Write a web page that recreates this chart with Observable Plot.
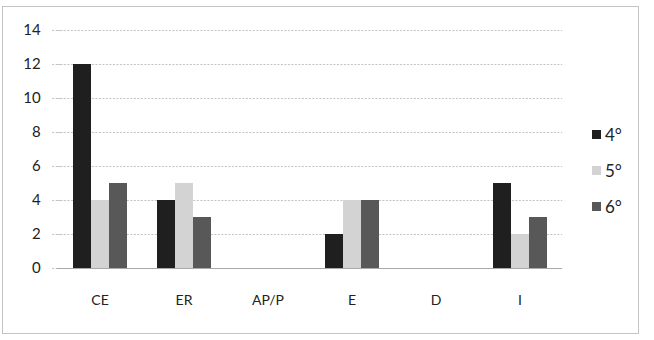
<!DOCTYPE html>
<html><head><meta charset="utf-8">
<script src="https://cdn.jsdelivr.net/npm/d3@7"></script>
<script src="https://cdn.jsdelivr.net/npm/@observablehq/plot@0.6"></script>
<style>
body{margin:0;background:#fff;}
#wrap{position:relative;width:654px;height:340px;font-family:Lato,"Open Sans",sans-serif;}
#wrap svg{position:absolute;left:0;top:0;}
#border{position:absolute;left:2px;top:6px;width:635px;height:326px;border:1px solid #c4c4c4;}
#legend{position:absolute;left:592px;top:116px;}
.item{display:flex;align-items:center;height:36px;font-size:17px;color:#222;}
.sw{width:9px;height:9px;margin-right:4px;}
</style></head><body>
<div id="wrap"><div id="border"></div><div id="legend"></div></div>
<script>
const categories = ["CE","ER","AP/P","E","D","I"];
const series = ["4°","5°","6°"];
const values4 = [12,4,0,2,0,5];
const values5 = [4,5,0,4,0,2];
const values6 = [5,3,0,4,0,3];
const yTicks = [0,2,4,6,8,10,12,14];
const colors = ["#1f1f1f","#d3d3d3","#585858"];

const seriesValues = [values4, values5, values6];
const data = [];
categories.forEach((c, i) => series.forEach((s, j) => data.push({category: c, series: s, value: seriesValues[j][i]})));

// layout constants (styles)
const W = 654, H = 340, mL = 55, mR = 91, mT = 30, mB = 72;
const pIn = 0.35, pOut = 0.175;
const step = (W - mL - mR) / (categories.length - pIn + 2 * pOut);
const outer = pOut * step;
const gapHalf = pIn * step / 2;
const bw = (1 - pIn) * step;
const first = () => categories[0];

const chart = Plot.plot({
  width: W, height: H,
  marginLeft: mL, marginRight: mR, marginTop: mT, marginBottom: mB,
  style: {fontFamily: "Lato, 'Open Sans', sans-serif", fontSize: "14px", color: "#222", background: "transparent"},
  fx: {domain: categories, paddingInner: pIn, paddingOuter: pOut, label: null},
  x: {domain: series, padding: 0, axis: null},
  y: {domain: [0, 14], axis: null},
  color: {domain: series, range: colors},
  marks: [
    Plot.ruleY(yTicks.filter(d => d > 0), {y: d => d, stroke: "#c2c2c2", strokeDasharray: "2,1.5", insetLeft: -gapHalf - 0.3, insetRight: -gapHalf - 0.3}),
    Plot.ruleY(yTicks, {y: d => d, fx: first, stroke: "#c2c2c2", strokeDasharray: "2,1.5", insetLeft: -outer - 5, insetRight: bw + outer - 6}),
    Plot.ruleX([0], {fx: first, y1: 0, y2: 14, dx: -bw / 2 - outer, stroke: "#d4d4d4", strokeDasharray: "2,2"}),
    Plot.text(yTicks, {y: d => d, fx: first, text: d => String(d), frameAnchor: "left", textAnchor: "end", dx: -outer - 17, fontSize: 15}),
    Plot.barY(data, {fx: "category", x: "series", y: "value", fill: "series"}),
    Plot.ruleY([0], {y: d => d, stroke: "#a8a8a8", insetLeft: -gapHalf - 0.3, insetRight: -gapHalf - 0.3}),
    Plot.axisFx({anchor: "bottom", tickSize: 0, tickPadding: 27, label: null, fontSize: 14})
  ]
});
document.getElementById("wrap").appendChild(chart);

const legend = document.getElementById("legend");
series.forEach((s, i) => {
  const item = document.createElement("div");
  item.className = "item";
  const sw = document.createElement("span");
  sw.className = "sw";
  sw.style.background = colors[i];
  const t = document.createElement("span");
  t.textContent = s;
  item.appendChild(sw); item.appendChild(t);
  legend.appendChild(item);
});
</script>
</body></html>
